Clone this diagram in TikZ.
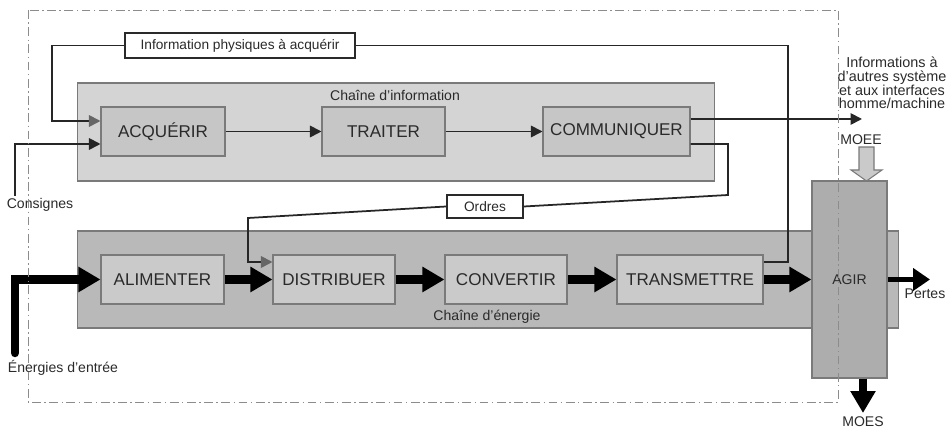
\documentclass[tikz,border=0pt]{standalone}
\usepackage{fontspec}
\setmainfont{Liberation Sans}
\usetikzlibrary{arrows.meta}

\definecolor{boxline}{HTML}{7A7A7A}
\definecolor{infofond}{HTML}{D4D4D4}
\definecolor{infobloc}{HTML}{C6C6C6}
\definecolor{nrjfond}{HTML}{B9B9B9}
\definecolor{nrjbloc}{HTML}{CACACA}
\definecolor{agirfond}{HTML}{ADADAD}
\definecolor{texte}{HTML}{2A2A2A}

\tikzset{
  chaine/.style={draw=boxline, line width=0.6pt, inner sep=0pt},
  fonction/.style={draw=boxline, line width=0.6pt, minimum height=0.98cm, inner sep=0pt,
    font=\fontsize{9.7}{11}\selectfont, text=texte},
  etiq/.style={font=\fontsize{8}{8}\selectfont, inner sep=0pt, text=texte},
  cadrage/.style={draw=texte, line width=1pt, fill=white, inner sep=0pt,
    font=\fontsize{7.8}{8}\selectfont, text=texte},
  fil/.style={line width=1pt, draw=black!85},
  info/.style={fil, -{Triangle[length=0.23cm, width=0.23cm]}},
  retour/.style={fil, -{Triangle[length=0.23cm, width=0.23cm, color=black!60]}},
  energie/.style={line width=0.17cm, draw=black, -{Triangle[length=0.44cm, width=0.48cm]}},
  cadre/.style={draw=black!45, line width=0.5pt, dash pattern=on 5pt off 2pt on 0.8pt off 2pt}
}

\begin{document}
\begin{tikzpicture}[x=0.02cm, y=-0.02cm]
  \useasboundingbox (0,0) rectangle (950,431);

  % chaine d'information
  \node[chaine, fill=infofond, minimum width=12.76cm, minimum height=1.96cm] (chinfo) at (396,132) {};
  \node[etiq] (lblinfo) at (395,95) {Chaîne d'information};
  \node[fonction, fill=infobloc, minimum width=2.48cm] (acq) at (163,131.5) {ACQUÉRIR};
  \node[fonction, fill=infobloc, minimum width=2.46cm] (trai) at (383.5,131.5) {TRAITER};
  \node[fonction, fill=infobloc, minimum width=2.94cm] (comm) at (616.5,131.5) {COMMUNIQUER};

  % chaine d'energie
  \node[chaine, fill=nrjfond, minimum width=16.44cm, minimum height=1.94cm] (chnrj) at (488,279.5) {};
  \node[etiq] (lblnrj) at (487,317) {Chaîne d'énergie};
  \node[fonction, fill=nrjbloc, minimum width=2.46cm] (alim) at (162.5,279.5) {ALIMENTER};
  \node[fonction, fill=nrjbloc, minimum width=2.44cm] (dist) at (334,279.5) {DISTRIBUER};
  \node[fonction, fill=nrjbloc, minimum width=2.44cm] (conv) at (506,279.5) {CONVERTIR};
  \node[fonction, fill=nrjbloc, minimum width=2.92cm] (trans) at (690,279.5) {TRANSMETTRE};
  \node[chaine, fill=agirfond, minimum width=1.5cm, minimum height=3.94cm,
    font=\fontsize{8}{8}\selectfont, text=texte] (agir) at (849.5,279.5) {AGIR};

  % etiquettes
  \node[cadrage, minimum width=4.6cm, minimum height=0.5cm] (phys) at (240,45.5) {Information physiques à acquérir};
  \node[cadrage, minimum width=1.52cm, minimum height=0.46cm] (ordres) at (485,206.5) {Ordres};
  \node[etiq] (consignes) at (40,205) {Consignes};
  \node[etiq] (entree) at (63,368) {Énergies d'entrée};
  \node[etiq, align=center, font=\fontsize{8.2}{7.8}\selectfont] (autres) at (892,83)
    {Informations à\\d'autres système\\et aux interfaces\\homme/machine};
  \node[etiq] (moee) at (861,140) {MOEE};
  \node[etiq] (moes) at (863,422) {MOES};
  \node[etiq] (pertes) at (925,294) {Pertes};
  \coordinate (sortie) at (862,119);
  \coordinate (fuite) at (930,279.5);
  \coordinate (bas) at (863,413);

  % flux d'information
  \draw[info] (acq) -- (trai);
  \draw[info] (trai) -- (comm);
  \draw[info] (comm.east |- sortie) -- (sortie);
  \draw[info] (15,196) -- (15,144) -- (acq.west |- 0,144);
  \draw[fil] (trans.east |- 0,262) -- (788,262) -- (788,45.5) -- (phys.east);
  \draw[retour] (phys.west) -- (52,45.5) -- (52,121) -- (acq.west |- 0,121);
  \draw[fil] (comm.east |- 0,144) -- (728,144) -- (728,195) -- (ordres.east);
  \draw[retour] (ordres.west) -- (248,218) -- (248,262) -- (dist.west |- 0,262);

  % flux d'energie
  \draw[energie, line cap=round] (15,353) -- (15,279.5) -- (alim.west);
  \draw[energie] (alim) -- (dist);
  \draw[energie] (dist) -- (conv);
  \draw[energie] (conv) -- (trans);
  \draw[energie] (trans) -- (agir);
  \draw[line width=0.1cm, -{Triangle[length=0.34cm, width=0.44cm]}] (agir.east) -- (fuite);
  \draw[energie] (agir.south -| bas) -- (bas);
  \draw[draw=boxline, line width=0.6pt, fill=nrjbloc]
    (859,147) -- (874,147) -- (874,170) -- (882,170) -- (866.5,181) -- (851,170) -- (859,170) -- cycle;

  % frontiere du systeme
  \draw[cadre] (28,10) rectangle (838,402);
\end{tikzpicture}
\end{document}
